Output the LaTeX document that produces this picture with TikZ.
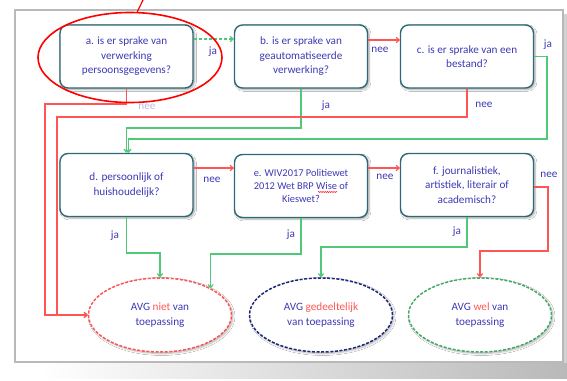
\documentclass[tikz,border=0pt]{standalone}
\usepackage{fontspec}
\setmainfont{Carlito}
\usetikzlibrary{arrows.meta,shapes.geometric,shadows.blur,decorations.pathmorphing}
\definecolor{txt}{RGB}{62,58,180}
\definecolor{boxc}{RGB}{45,105,118}
\definecolor{grn}{RGB}{80,200,120}
\definecolor{rd}{RGB}{255,85,85}
\definecolor{navy}{RGB}{30,40,120}
\definecolor{frm}{RGB}{185,185,185}
\begin{document}
\begin{tikzpicture}[x=1pt,y=-1pt,
  qbox/.style={draw=boxc,line width=1.4pt,rounded corners=8pt,fill=white,
    minimum width=133pt,minimum height=63pt,align=center,text=txt,
    font=\fontsize{11.2}{14.5}\selectfont,
    blur shadow={shadow blur steps=6,shadow xshift=1.5pt,shadow yshift=-1.5pt,shadow opacity=35}},
  res/.style={ellipse,line width=1.5pt,dash pattern=on 3pt off 1.6pt,fill=white,
    minimum width=143pt,minimum height=74pt,align=center,text=txt,inner sep=0pt,
    font=\fontsize{11.2}{15}\selectfont,
    blur shadow={shadow blur steps=6,shadow xshift=1.5pt,shadow yshift=-1.5pt,shadow opacity=30}},
  lbl/.style={text=txt,font=\fontsize{11.2}{12}\selectfont,inner sep=0pt},
  gline/.style={draw=grn,line width=1.2pt},
  rline/.style={draw=rd,line width=1.2pt},
  tip/.style={-{To[length=4pt,width=6pt]}}
]
\useasboundingbox (0,0) rectangle (567,380);
% frame and shadow
\shade[left color=white,right color=gray!55] (40,363) rectangle (567,378);
\fill[gray!35] (563,14) rectangle (567,363);
\draw[frm,line width=2.2pt,fill=white] (15,10) rectangle (563,362);

% question boxes
\node[qbox] (a) at (126.5,56.5) {a. is er sprake van\\verwerking\\persoonsgegevens?};
\node[qbox] (b) at (301,56.5) {b. is er sprake van\\geautomatiseerde\\verwerking?};
\node[qbox] (c) at (467,56.5) {c. is er sprake van een\\bestand?};
\node[qbox] (d) at (126.5,185) {d. persoonlijk of\\huishoudelijk?};
\node[qbox,font=\fontsize{10.4}{13}\selectfont] (e) at (301,186) {e. WIV2017 Politiewet\\2012 Wet BRP Wise of\\Kieswet?};
\node[qbox] (f) at (467,185) {f. journalistiek,\\artistiek, literair of\\academisch?};
\draw[red,line width=0.5pt,decorate,decoration={snake,amplitude=0.5pt,segment length=2.2pt}] (318,192) -- (337,192);

% result ellipses
\node[res,draw=rd] (r1) at (160,315) {AVG \textcolor{rd}{niet} van\\toepassing};
\node[res,draw=navy] (r2) at (321,315) {AVG \textcolor{rd}{gedeeltelijk}\\van toepassing};
\node[res,draw=grn!85!black] (r3) at (480,315) {AVG \textcolor{rd}{wel} van\\toepassing};

% connectors row 1
\draw[gline,tip,dash pattern=on 3pt off 2pt] ([yshift=17.5pt]a.east) -- ([yshift=17.5pt]b.west);
\draw[rline,tip] ([yshift=16.5pt]b.east) -- ([yshift=16.5pt]c.west);
\draw[gline,tip] (b.south) -- (301,128) -| (d.north);
\draw[gline,tip] (c.east) -- (547,56.5) -- (547,139) -- (128.5,139) -- ([xshift=2pt]d.north);
\draw[rline,tip] (a.south) -- (126.5,104) -- (45,104) |- (r1.west);
\draw[rline,tip] (c.south) -- (467,117) -- (57,117) |- (r1.west);

% connectors row 2
\draw[rline,tip] ([yshift=17pt]d.east) -- ([yshift=18pt]e.west);
\draw[rline,tip] ([yshift=18pt]e.east) -- ([yshift=17pt]f.west);
\draw[rline,tip] ([yshift=-2pt]f.east) -- (548,187) -- (548,251) -| (r3.north);
\draw[gline,tip] (d.south) -- (126.5,253) -| (r1.north);
\draw[gline,tip] (e.south) -- (301,254) -| (r1.28);
\draw[gline,tip] (f.south) -- (467,247) -| (r2.north);

% labels
\node[lbl] (l1) at (213,52) {ja};
\node[lbl] (l2) at (380,50) {nee};
\node[lbl] (l3) at (548,45) {ja};
\node[lbl] (l4) at (326,106) {ja};
\node[lbl] (l5) at (484,105) {nee};
\node[lbl,opacity=0.35] (l6) at (147,107) {nee};
\node[lbl] (l7) at (212,180) {nee};
\node[lbl] (l8) at (385,177) {nee};
\node[lbl] (l9) at (549,175) {nee};
\node[lbl] (l10) at (115,236) {ja};
\node[lbl] (l11) at (291,235) {ja};
\node[lbl] (l12) at (457,232) {ja};

% red highlight ellipse around a
\node[ellipse,draw=red,line width=1.6pt,minimum width=184pt,minimum height=90pt,inner sep=0pt] (hl) at (130,57.5) {};
\coordinate (pt) at (143,0);
\draw[red,line width=1.2pt] (pt) -- (hl.81);
\end{tikzpicture}
\end{document}
